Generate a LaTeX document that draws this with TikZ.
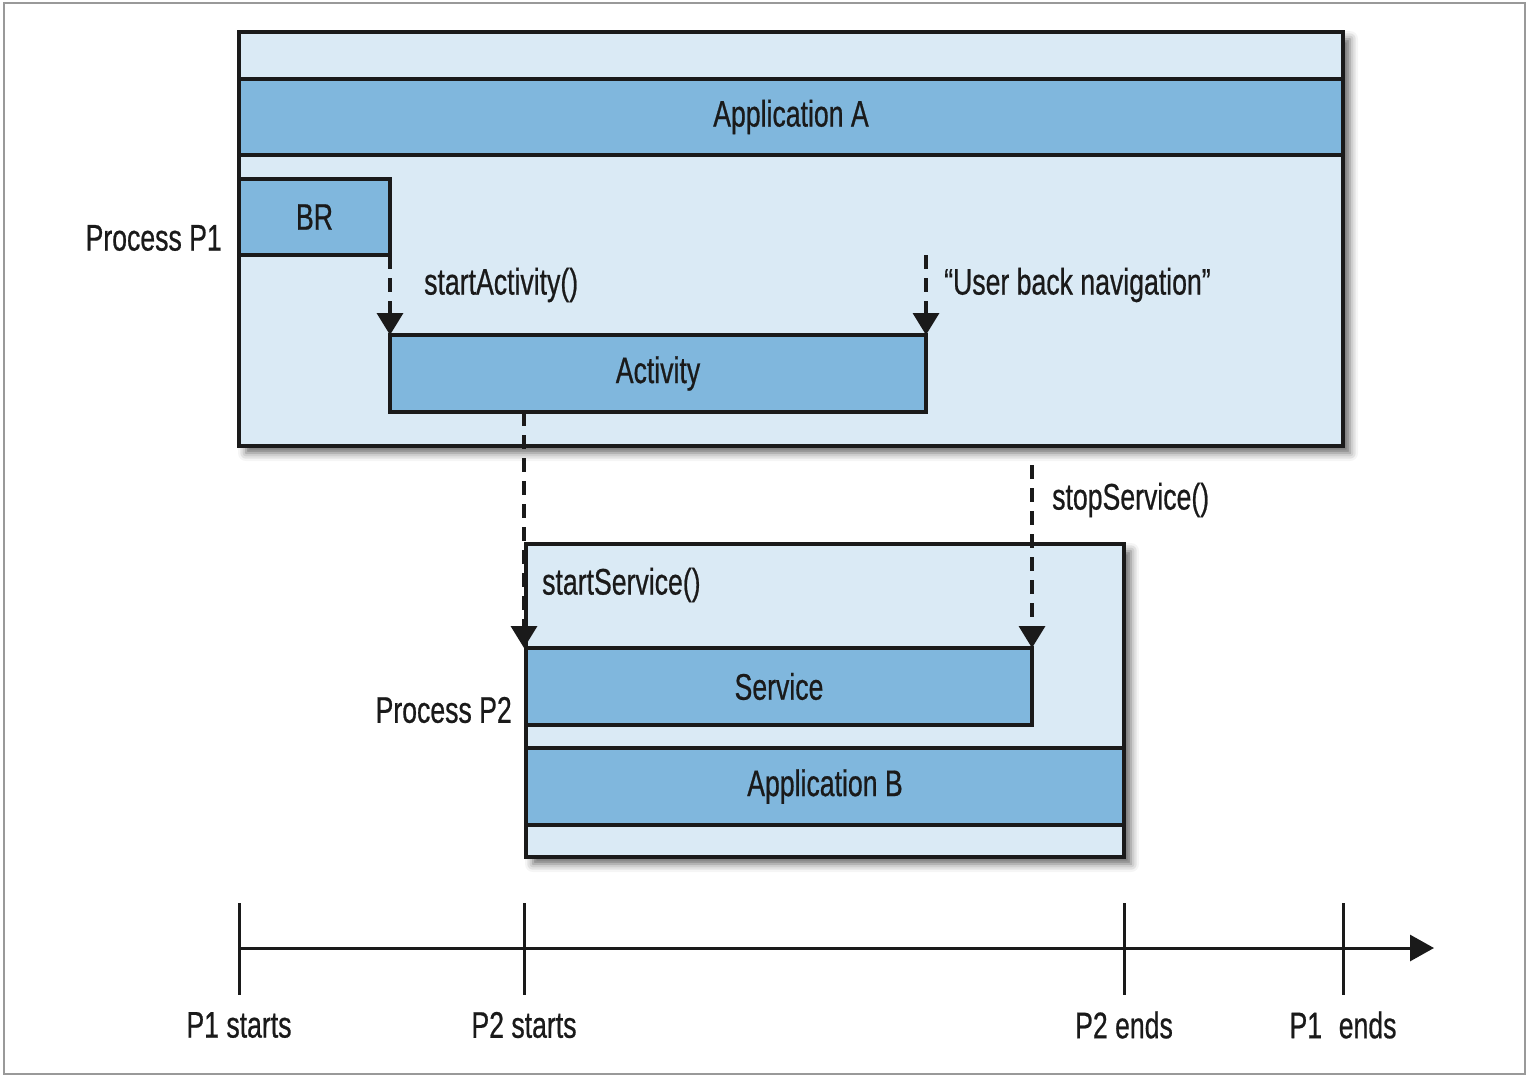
\documentclass[tikz,border=0pt]{standalone}
\usepackage{fontspec}
\setmainfont[FakeStretch=0.72,FakeBold=0.6]{Liberation Sans}
\usetikzlibrary{arrows.meta,shadows.blur,calc}
\definecolor{lightb}{HTML}{DAEAF5}
\definecolor{midb}{HTML}{80B7DD}
\definecolor{ink}{HTML}{1A1A1A}
\begin{document}
\begin{tikzpicture}[x=1pt,y=-1pt,
  every node/.style={font=\fontsize{37}{40}\selectfont, text=ink},
  procbox/.style={draw=ink, line width=3.5pt, fill=lightb, inner sep=0pt, outer sep=0pt, anchor=north west,
     blur shadow={shadow xshift=7pt, shadow yshift=-7pt, shadow blur radius=8pt, shadow opacity=60}},
  compbox/.style={draw=ink, line width=3.5pt, fill=midb, inner sep=0pt, outer sep=0pt, anchor=north west},
  lbl/.style={inner sep=0pt, anchor=west},
  dasharrow/.style={draw=ink, line width=3.5pt, dash pattern=on 14pt off 9pt, -{Triangle[width=26pt,length=22pt]}},
  tick/.style={draw=ink, line width=3pt},
]
\useasboundingbox (0,0) rectangle (1530,1082);
\draw[gray!80, line width=1.5pt] (4,3) rectangle (1525,1074);

% Process P1
\node[procbox, minimum width=1104pt, minimum height=414pt] (p1) at (239,32) {};
\node[compbox, minimum width=1104pt, minimum height=76pt] (appA) at (239,79) {Application A};
\node[compbox, minimum width=151pt, minimum height=76pt] (br) at (239,179) {BR};
\node[compbox, minimum width=536pt, minimum height=77pt] (act) at (390,335) {Activity};
\node[inner sep=0pt, anchor=east] (lp1) at (222,238) {Process P1};

% Process P2
\node[procbox, minimum width=598pt, minimum height=313pt] (p2) at (526,544) {};
\node[compbox, minimum width=506pt, minimum height=77pt] (svc) at (526,648) {Service};
\node[compbox, minimum width=598pt, minimum height=77pt] (appB) at (526,748) {Application B};
\node[inner sep=0pt, anchor=east] (lp2) at (512,710) {Process P2};

% connectors
\coordinate (ub) at (926,255);
\coordinate (ss) at (1032,465);
\draw[dasharrow] (br.south east) -- (act.north west);
\draw[dasharrow] (ub) -- (act.north east);
\draw[dasharrow] ([xshift=-2pt]svc.north west |- act.south) -- ([xshift=-2pt]svc.north west);
\draw[dasharrow] (ss) -- (svc.north east);

\node[lbl] (l1) at (424,285) {startActivity()};
\node[lbl] (l2) at (944,285) {“User back navigation”};
\node[lbl] (l3) at (1052,500) {stopService()};
\node[lbl] (l4) at (542,585) {startService()};

% timeline
\coordinate (a0) at (239,948);
\coordinate (a1) at (1434,948);
\draw[draw=ink, line width=3pt, -{Triangle[width=26pt,length=24pt]}] (a0) -- (a1);
\foreach \x/\n/\t in {239/t1/P1 starts, 524/t2/P2 starts, 1124/t3/P2 ends, 1343/t4/P1\hspace{0.25em} ends}{
  \coordinate (\n top) at (\x,903);
  \coordinate (\n bot) at (\x,995);
  \draw[tick] (\n top) -- (\n bot);
  \node[inner sep=0pt] (\n lab) at (\x,1025) {\t};
}
\end{tikzpicture}
\end{document}
